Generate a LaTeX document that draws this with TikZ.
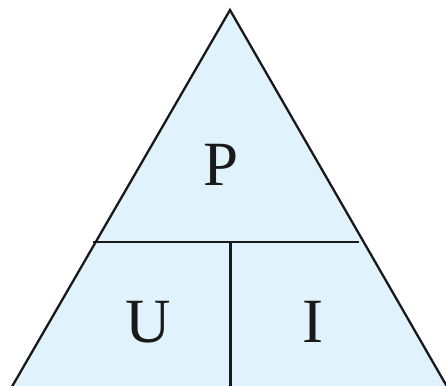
\documentclass[tikz,border=0pt]{standalone}
\usepackage{fontspec}
\setmainfont{Liberation Serif}
\begin{document}
\begin{tikzpicture}[x=1pt,y=-1pt,
  edge/.style={draw=black!90, line width=2.3pt},
  letter/.style={inner sep=0pt, anchor=base, text=black!90, font=\fontsize{63}{63}\selectfont}]
\useasboundingbox (0,0) rectangle (446,385);
\begin{scope}
\clip (0,0) rectangle (446,385);
\coordinate (apex) at (230,10);
\coordinate (bl) at (6,397);
\coordinate (br) at (453,397);
\fill[fill={rgb,255:red,224;green,242;blue,251}] (bl) -- (apex) -- (br) -- cycle;
\draw[edge, line join=miter] (bl) -- (apex) -- (br);
\coordinate (hl) at (93,242);
\coordinate (hr) at (359,242);
\coordinate (vt) at (230.5,242);
\coordinate (vb) at (230.5,390);
\draw[edge] (hl) -- (hr);
\draw[edge] (vt) -- (vb);
\end{scope}
\node[letter] (P) at (221.5,185) {P};
\node[letter] (U) at (148.5,342) {U};
\node[letter] (I) at (313,342) {I};
\end{tikzpicture}
\end{document}
